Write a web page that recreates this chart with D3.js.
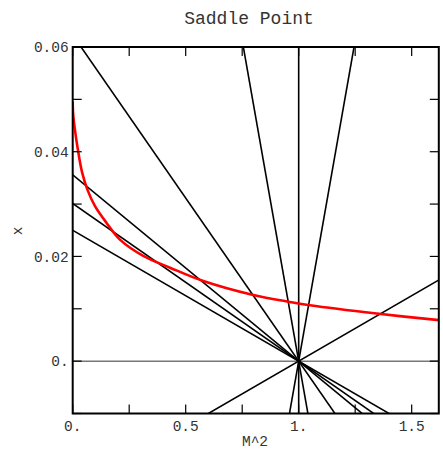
<!DOCTYPE html>
<html>
<head>
<meta charset="utf-8">
<script src="https://cdn.jsdelivr.net/npm/d3@7"></script>
<style>
  html, body { margin: 0; padding: 0; background: #fff; }
  svg { display: block; }
  text { font-family: "Courier New", "Liberation Mono", "DejaVu Sans Mono", monospace; fill: #333; }
</style>
</head>
<body>
<svg id="chart" width="443" height="451"></svg>
<script>
// ---- data ----
const title = "Saddle Point";
const xLabel = "M^2";
const yLabel = "x";
const xDomain = [0, 1.62];
const yDomain = [-0.01, 0.06];
const xTicks = [0, 0.25, 0.5, 0.75, 1, 1.25, 1.5];
const xTickLabels = {0: "0.", 0.5: "0.5", 1: "1.", 1.5: "1.5"};
const yTicks = [-0.01, 0, 0.01, 0.02, 0.03, 0.04, 0.05, 0.06];
const yTickLabels = {0: "0.", 0.02: "0.02", 0.04: "0.04", 0.06: "0.06"};

// straight lines through the saddle point (M^2 = 1, x = 0), given by slope
const pivotM = 1;
const pivotX = 0;
const lineSlopes = [-0.0623, -0.0356, -0.0301, -0.025, -0.245, 0.245, 0.025];
const verticalLineM = [1];

// red curve
const curveM = [0, 0.0015, 0.0058, 0.0279, 0.0425, 0.0646, 0.0987, 0.150, 0.209, 0.312, 0.4305, 0.578, 0.799, 0.961, 1.05, 1.345, 1.625];
const curveX = [0.0496, 0.0475, 0.0455, 0.0391, 0.0359, 0.0328, 0.0296, 0.0264, 0.0232, 0.0201, 0.01785, 0.0153, 0.01263, 0.0113, 0.01067, 0.00909, 0.00781];

// ---- drawing ----
const svg = d3.select("#chart");
const pLeft = 72.7, pRight = 438.8, pTop = 47, pBottom = 413.5;
const x = d3.scaleLinear().domain(xDomain).range([pLeft, pRight]);
const y = d3.scaleLinear().domain(yDomain).range([pBottom, pTop]);

svg.append("defs").append("clipPath").attr("id", "clip")
  .append("rect").attr("x", pLeft).attr("y", pTop).attr("width", pRight - pLeft).attr("height", pBottom - pTop);

const plot = svg.append("g").attr("clip-path", "url(#clip)");

// zero line
plot.append("line")
  .attr("x1", x(xDomain[0])).attr("x2", x(xDomain[1]))
  .attr("y1", y(0)).attr("y2", y(0))
  .attr("stroke", "#777").attr("stroke-width", 1.5);

// sloped lines
const mA = -1, mB = 3;
plot.selectAll("line.ray").data(lineSlopes).join("line")
  .attr("class", "ray")
  .attr("x1", x(mA)).attr("y1", s => y(pivotX + s * (mA - pivotM)))
  .attr("x2", x(mB)).attr("y2", s => y(pivotX + s * (mB - pivotM)))
  .attr("stroke", "#000").attr("stroke-width", 1.6);

plot.selectAll("line.vert").data(verticalLineM).join("line")
  .attr("class", "vert")
  .attr("x1", d => x(d)).attr("x2", d => x(d))
  .attr("y1", y(yDomain[0])).attr("y2", y(yDomain[1]))
  .attr("stroke", "#000").attr("stroke-width", 1.6);

// red curve
const pts = curveM.map((m, i) => [m, curveX[i]]);
plot.append("path")
  .attr("d", d3.line().x(d => x(d[0])).y(d => y(d[1])).curve(d3.curveCatmullRom.alpha(0.5))(pts))
  .attr("fill", "none").attr("stroke", "#ff0000").attr("stroke-width", 2.6);

// ticks (inward on all sides)
const tl = 9;
const axisG = svg.append("g").attr("stroke", "#000").attr("stroke-width", 1.2);
xTicks.forEach(t => {
  axisG.append("line").attr("x1", x(t)).attr("x2", x(t)).attr("y1", pBottom).attr("y2", pBottom - tl);
  axisG.append("line").attr("x1", x(t)).attr("x2", x(t)).attr("y1", pTop).attr("y2", pTop + tl);
});
yTicks.forEach(t => {
  axisG.append("line").attr("x1", pLeft).attr("x2", pLeft + tl).attr("y1", y(t)).attr("y2", y(t));
  axisG.append("line").attr("x1", pRight).attr("x2", pRight - tl).attr("y1", y(t)).attr("y2", y(t));
});

// frame
svg.append("rect").attr("x", pLeft).attr("y", pTop).attr("width", pRight - pLeft).attr("height", pBottom - pTop)
  .attr("fill", "none").attr("stroke", "#000").attr("stroke-width", 2);

// tick labels
Object.keys(xTickLabels).forEach(k => {
  svg.append("text").attr("x", x(+k)).attr("y", pBottom + 17)
    .attr("text-anchor", "middle").attr("font-size", 14.5).text(xTickLabels[k]);
});
Object.keys(yTickLabels).forEach(k => {
  svg.append("text").attr("x", pLeft - 4).attr("y", y(+k)).attr("dy", "0.35em")
    .attr("text-anchor", "end").attr("font-size", 14.5).text(yTickLabels[k]);
});

// axis titles
svg.append("text").attr("x", 255).attr("y", 446).attr("text-anchor", "middle")
  .attr("font-size", 14.5).text(xLabel);
svg.append("text").attr("transform", "translate(22,231) rotate(-90)")
  .attr("text-anchor", "middle").attr("font-size", 14.5).text(yLabel);

// title
svg.append("text").attr("x", 249).attr("y", 24).attr("text-anchor", "middle")
  .attr("font-size", 18).text(title);
</script>
</body>
</html>
